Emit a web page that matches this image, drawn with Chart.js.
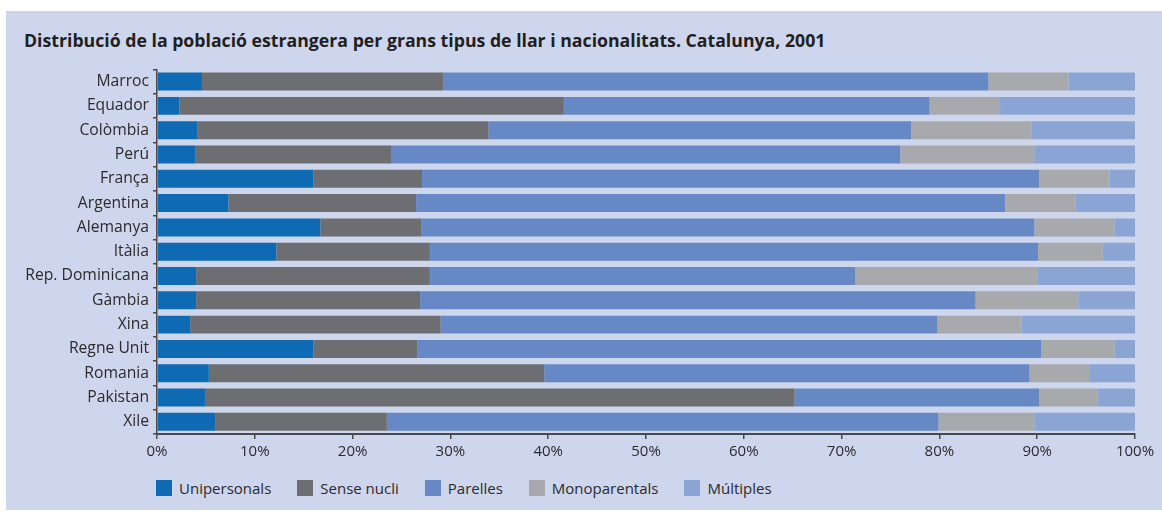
<!DOCTYPE html>
<html>
<head>
<meta charset="utf-8">
<script src="https://cdn.jsdelivr.net/npm/chart.js@4/dist/chart.umd.min.js"></script>
<style>
    body { margin: 0; background: #fff; width: 1162px; height: 512px; overflow: hidden; font-family: 'Open Sans', sans-serif; color: #2b2a2c; }
    #panel { position: absolute; left: 6px; top: 11px; width: 1156px; height: 499px; background: #cdd6ed; }
    #title { position: absolute; left: 18px; top: 19px; font-size: 17.7px; font-weight: 700; line-height: 20px; color: #231f20; white-space: nowrap; }
    #chartBox { position: absolute; left: 0; top: 45px; width: 1156px; height: 414px; }
    #legend { position: absolute; left: 150px; top: 469px; display: flex; font-size: 15px; line-height: 16px; }
    .item { display: flex; align-items: center; margin-right: 26px; }
    .swatch { width: 16px; height: 16px; margin-right: 7px; }
</style>
</head>
<body>
<div id="panel">
    <div id="title">Distribució de la població estrangera per grans tipus de llar i nacionalitats. Catalunya, 2001</div>
    <div id="chartBox"><canvas id="chart"></canvas></div>
    <div id="legend"></div>
</div>
<script>
const countries = ['Marroc', 'Equador', 'Colòmbia', 'Perú', 'França', 'Argentina', 'Alemanya', 'Itàlia',
    'Rep. Dominicana', 'Gàmbia', 'Xina', 'Regne Unit', 'Romania', 'Pakistan', 'Xile'];

// percentages per household type, same order as countries
const unipersonals  = [4.6, 2.3, 4.1, 3.9, 16.0, 7.3, 16.7, 12.2, 4.0, 4.0, 3.4, 16.0, 5.3, 4.9, 6.0];
const senseNucli    = [24.7, 39.3, 29.8, 20.1, 11.1, 19.2, 10.3, 15.7, 23.9, 22.9, 25.6, 10.6, 34.3, 60.3, 17.5];
const parelles      = [55.7, 37.4, 43.2, 52.0, 63.1, 60.2, 62.7, 62.2, 43.5, 56.8, 50.8, 63.8, 49.6, 25.0, 56.4];
const monoparentals = [8.2, 7.2, 12.3, 13.7, 7.2, 7.2, 8.2, 6.6, 18.6, 10.5, 8.6, 7.5, 6.2, 6.0, 9.8];
const multiples     = [6.8, 13.8, 10.6, 10.3, 2.6, 6.1, 2.1, 3.3, 10.0, 5.8, 11.6, 2.1, 4.6, 3.8, 10.3];

const seriesNames = ['Unipersonals', 'Sense nucli', 'Parelles', 'Monoparentals', 'Múltiples'];
const seriesData = [unipersonals, senseNucli, parelles, monoparentals, multiples];
const seriesColors = ['#0f6ab4', '#6d6e71', '#6689c6', '#a8a9ac', '#8aa4d4'];

const xTicks = [0, 10, 20, 30, 40, 50, 60, 70, 80, 90, 100];

const FONT = { family: "'Open Sans', sans-serif", size: 15 };
const AXIS_COLOR = '#4a4a4c';

function buildLegend() {
    const legend = document.getElementById('legend');
    seriesNames.forEach((name, i) => {
        legend.insertAdjacentHTML('beforeend',
            `<div class="item"><div class="swatch" style="background:${seriesColors[i]}"></div>${name}</div>`);
    });
}

function makeChart(ctx) {
    return new Chart(ctx, {
        type: 'bar',
        data: {
            labels: countries,
            datasets: seriesNames.map((name, i) => ({
                label: name,
                data: seriesData[i],
                backgroundColor: seriesColors[i],
                borderWidth: 0,
                categoryPercentage: 1,
                barPercentage: 0.74
            }))
        },
        options: {
            indexAxis: 'y',
            responsive: true,
            maintainAspectRatio: false,
            animation: false,
            events: [],
            layout: {
                padding: { top: 0, right: 27, bottom: 6, left: 0 }
            },
            plugins: {
                legend: { display: false },
                tooltip: { enabled: false }
            },
            scales: {
                x: {
                    stacked: true,
                    min: 0,
                    max: 100,
                    afterBuildTicks: (scale) => {
                        scale.ticks = xTicks.map((v) => ({ value: v }));
                    },
                    afterFit: (scale) => { scale.height = 30; },
                    ticks: {
                        font: FONT,
                        color: '#2b2a2c',
                        padding: 4,
                        maxRotation: 0,
                        callback: (v) => `${v}%`
                    },
                    grid: {
                        drawOnChartArea: false,
                        tickLength: 5,
                        color: AXIS_COLOR,
                        lineWidth: 1.5
                    },
                    border: { color: AXIS_COLOR, width: 2 }
                },
                y: {
                    stacked: true,
                    afterFit: (scale) => { scale.width = 151; },
                    ticks: {
                        font: { family: FONT.family, size: 15.7 },
                        color: '#2b2a2c',
                        padding: 4
                    },
                    grid: {
                        drawOnChartArea: false,
                        tickLength: 4,
                        color: AXIS_COLOR,
                        lineWidth: 1.5
                    },
                    border: { color: AXIS_COLOR, width: 1.5 }
                }
            }
        }
    });
}

buildLegend();
makeChart(document.getElementById('chart').getContext('2d'));
</script>
</body>
</html>
